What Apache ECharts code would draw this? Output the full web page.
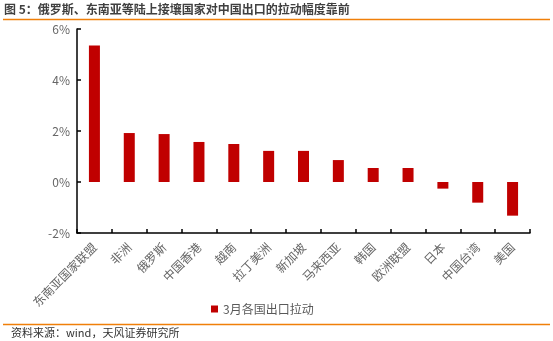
<!DOCTYPE html>
<html><head><meta charset="utf-8">
<script src="https://cdn.jsdelivr.net/npm/echarts@6/dist/echarts.min.js"></script>
<style>html,body{margin:0;padding:0;background:#fff}#c{width:553px;height:341px}</style>
</head><body><div id="c"></div>
<script>
var categories = ['东南亚国家联盟','非洲','俄罗斯','中国香港','越南','拉丁美洲','新加坡','马来西亚','韩国','欧洲联盟','日本','中国台湾','美国'];
var values = [5.35, 1.92, 1.88, 1.57, 1.49, 1.22, 1.22, 0.86, 0.55, 0.55, -0.26, -0.81, -1.32];
var seriesName = '3月各国出口拉动';
var titleText = '图 5：俄罗斯、东南亚等陆上接壤国家对中国出口的拉动幅度靠前';
var sourceText = '资料来源：wind，天风证券研究所';

var font = '"Noto Sans CJK SC", "Microsoft YaHei", sans-serif';
var chart = echarts.init(document.getElementById('c'));
chart.setOption({
  animation: false,
  textStyle: {fontFamily: font},
  grid: {left: 77, right: 23, top: 29, bottom: 108, containLabel: false},
  legend: {
    data: [seriesName], top: 298, left: 206,
    itemWidth: 7, itemHeight: 7, itemGap: 4,
    icon: 'rect',
    textStyle: {fontSize: 12, color: '#595959', fontFamily: font}
  },
  graphic: [
    {type: 'text', left: 4, top: 3, style: {text: titleText, font: 'bold 12px ' + font, fill: '#404040'}},
    {type: 'line', shape: {x1: 3, y1: 19.5, x2: 550, y2: 19.5}, style: {stroke: '#F07F09', lineWidth: 1.5}},
    {type: 'line', shape: {x1: 3, y1: 324.5, x2: 550, y2: 324.5}, style: {stroke: '#F07F09', lineWidth: 1.5}},
    {type: 'text', left: 11, top: 327, style: {text: sourceText, font: '11px ' + font, fill: '#333'}}
  ],
  xAxis: [
    {
      type: 'category', data: categories, position: 'bottom',
      axisLine: {show: false}, axisTick: {show: false},
      axisLabel: {rotate: 45, fontSize: 12, color: '#666', interval: 0, margin: 12, fontFamily: font}
    },
    {
      type: 'category', data: categories, position: 'bottom',
      axisLine: {show: true, onZero: true, lineStyle: {color: '#000', width: 1.5}},
      axisTick: {show: true, inside: true, length: 4, interval: 0, lineStyle: {color: '#000', width: 1.5}},
      axisLabel: {show: false}
    }
  ],
  yAxis: {
    type: 'value', min: -2, max: 6, interval: 2,
    axisLine: {show: true, lineStyle: {color: '#000', width: 1.5}},
    axisTick: {show: true, inside: true, length: 4, lineStyle: {color: '#000', width: 1.5}},
    splitLine: {show: false},
    axisLabel: {formatter: '{value}%', fontSize: 12, color: '#666', margin: 7, fontFamily: font}
  },
  series: [{
    name: seriesName, type: 'bar', data: values, barWidth: 11,
    itemStyle: {color: '#C00000'}, xAxisIndex: 0
  }]
});
</script></body></html>
